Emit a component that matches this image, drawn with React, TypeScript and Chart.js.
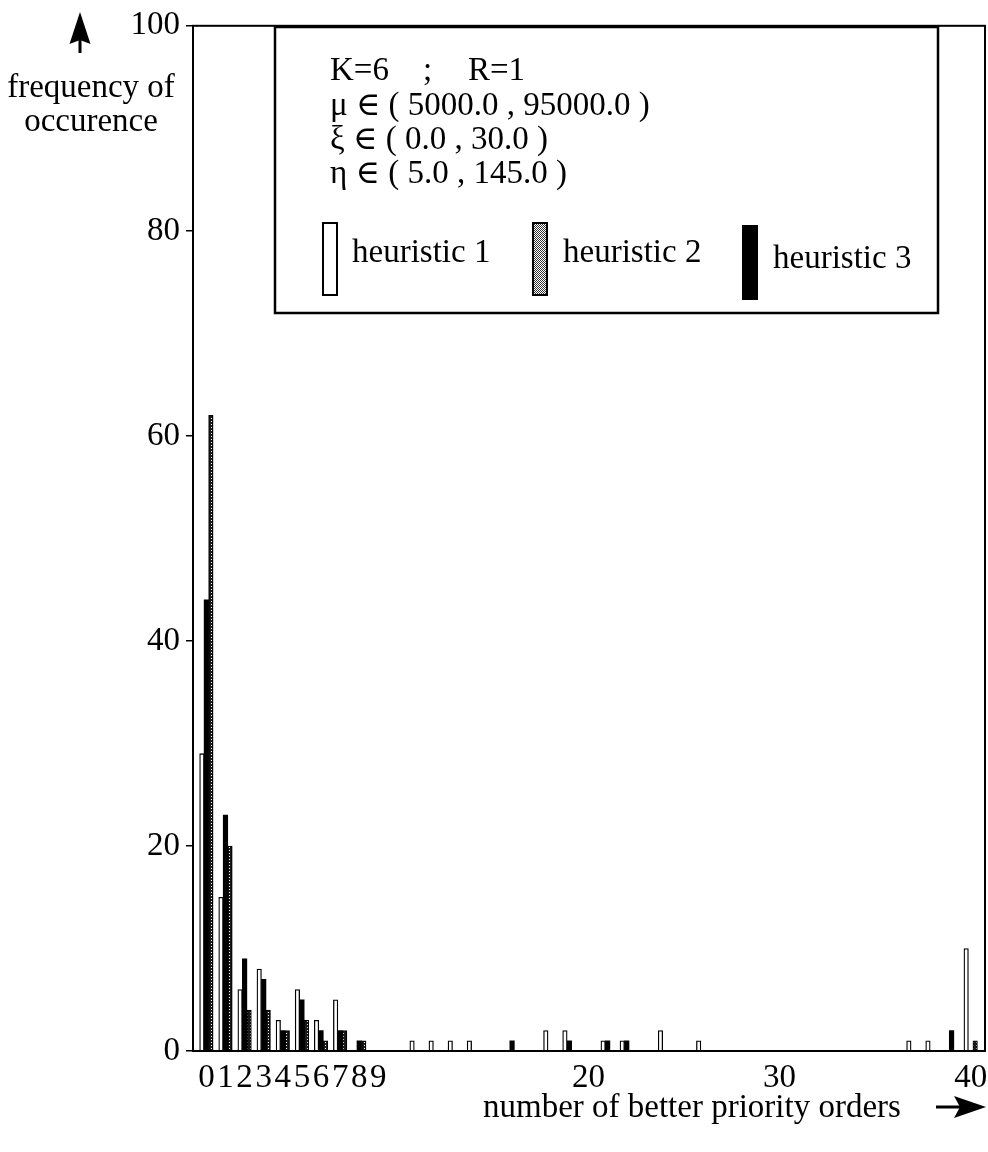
import React, { useEffect, useRef } from "react";
import { Chart, registerables } from "chart.js";

Chart.register(...registerables);

// number of better priority orders (x values)
const counts = [0, 1, 2, 3, 4, 5, 6, 7, 8, 9, 10, 11, 12, 13, 14, 15, 16, 17, 18, 19, 20, 21, 22, 23, 24, 25, 26, 27, 28, 29, 30, 31, 32, 33, 34, 35, 36, 37, 38, 39, 40];
// frequency of occurence per heuristic
const heuristic1 = [29, 15, 6, 8, 3, 6, 3, 5, 0, 0, 0, 1, 1, 1, 1, 0, 0, 0, 2, 2, 0, 1, 1, 0, 2, 0, 1, 0, 0, 0, 0, 0, 0, 0, 0, 0, 0, 1, 1, 0, 10];
const heuristic2 = [62, 20, 4, 4, 2, 3, 1, 2, 1, 0, 0, 0, 0, 0, 0, 0, 0, 0, 0, 0, 0, 0, 0, 0, 0, 0, 0, 0, 0, 0, 0, 0, 0, 0, 0, 0, 0, 0, 0, 0, 1];
const heuristic3 = [44, 23, 9, 7, 2, 5, 2, 2, 1, 0, 0, 0, 0, 0, 0, 0, 1, 0, 0, 1, 0, 1, 1, 0, 0, 0, 0, 0, 0, 0, 0, 0, 0, 0, 0, 0, 0, 0, 0, 2, 0];
const xTickValues = [0, 1, 2, 3, 4, 5, 6, 7, 8, 9, 20, 30, 40];
const yTickValues = [0, 20, 40, 60, 80, 100];
const paramLines = ["\u03bc \u2208 ( 5000.0 , 95000.0 )", "\u03be \u2208 ( 0.0 , 30.0 )", "\u03b7 \u2208 ( 5.0 , 145.0 )"];

const FAMILY = '"Liberation Serif", "Times New Roman", "DejaVu Serif", serif';
const FONT = `33px ${FAMILY}`;

function makePattern(size: number, bg: string, draw: (c: CanvasRenderingContext2D) => void) {
  const c = document.createElement("canvas");
  c.width = size;
  c.height = size;
  const g = c.getContext("2d")!;
  g.fillStyle = bg;
  g.fillRect(0, 0, size, size);
  draw(g);
  return g.createPattern(c, "repeat")!;
}

export default function App() {
  const ref = useRef<HTMLCanvasElement>(null);

  useEffect(() => {
    const canvas = ref.current!;
    const barPattern = makePattern(3, "#1a1a1a", (g) => {
      g.fillStyle = "#fff";
      g.fillRect(1, 1, 1, 1);
    });
    const legendPattern = makePattern(2, "#fff", (g) => {
      g.fillStyle = "#333";
      g.fillRect(0, 0, 1, 1);
      g.fillRect(1, 1, 1, 1);
    });

    const toPoints = (arr: number[]) =>
      counts.map((c, i) => ({ x: c, y: arr[i] > 0 ? arr[i] : null }));

    const decor = {
      id: "decor",
      afterDraw(chart: any) {
        const ctx: CanvasRenderingContext2D = chart.ctx;
        const { left, top, right, bottom } = chart.chartArea;
        ctx.save();
        ctx.strokeStyle = "#000";
        ctx.fillStyle = "#000";
        ctx.lineWidth = 2;
        ctx.strokeRect(left, top, right - left, bottom - top);

        // legend / parameter box
        ctx.lineWidth = 2.5;
        ctx.strokeRect(275, 27, 663, 286);
        ctx.font = FONT;
        ctx.textAlign = "left";
        ctx.textBaseline = "alphabetic";
        ctx.fillText("K=6", 330, 80);
        ctx.fillText(";", 423, 80);
        ctx.fillText("R=1", 468, 80);
        ctx.fillText(paramLines[0], 330, 115);
        ctx.fillText(paramLines[1], 330, 149);
        ctx.fillText(paramLines[2], 330, 183);

        const ds = chart.data.datasets;
        // heuristic 1 swatch
        ctx.lineWidth = 2;
        ctx.fillStyle = "#fff";
        ctx.fillRect(323, 223, 14, 72);
        ctx.strokeRect(323, 223, 14, 72);
        ctx.fillStyle = "#000";
        ctx.fillText(ds[0].label, 352, 262);
        // heuristic 2 swatch
        ctx.fillStyle = legendPattern;
        ctx.fillRect(533, 223, 14, 72);
        ctx.strokeRect(533, 223, 14, 72);
        ctx.fillStyle = "#000";
        ctx.fillText(ds[2].label, 563, 262);
        // heuristic 3 swatch
        ctx.fillRect(742, 225, 16, 75);
        ctx.fillText(ds[1].label, 773, 268);

        // y-axis title with up arrow
        ctx.textAlign = "center";
        ctx.fillText("frequency of", 91, 97);
        ctx.fillText("occurence", 91, 131);
        ctx.beginPath();
        ctx.moveTo(80, 12);
        ctx.lineTo(90.5, 44);
        ctx.lineTo(80, 40);
        ctx.lineTo(69.5, 44);
        ctx.closePath();
        ctx.fill();
        ctx.fillRect(78.5, 38, 3, 15);

        // x-axis title with right arrow
        ctx.textAlign = "left";
        ctx.fillText("number of better priority orders", 483, 1117);
        ctx.beginPath();
        ctx.moveTo(986, 1107);
        ctx.lineTo(954, 1096);
        ctx.lineTo(960, 1107);
        ctx.lineTo(954, 1118);
        ctx.closePath();
        ctx.fill();
        ctx.fillRect(936, 1105.5, 24, 3);
        ctx.restore();
      },
    };

    const chart = new Chart(canvas, {
      type: "bar",
      data: {
        datasets: [
          {
            label: "heuristic 1",
            data: toPoints(heuristic1),
            backgroundColor: "#fff",
            borderColor: "#000",
            borderWidth: 1.3,
            barThickness: 4.5,
          },
          {
            label: "heuristic 3",
            data: toPoints(heuristic3),
            backgroundColor: "#000",
            borderColor: "#000",
            borderWidth: 0,
            barThickness: 4.5,
          },
          {
            label: "heuristic 2",
            data: toPoints(heuristic2),
            backgroundColor: barPattern as any,
            borderColor: "#000",
            borderWidth: 1.2,
            barThickness: 4.5,
          },
        ] as any,
      },
      options: {
        responsive: false,
        animation: false,
        layout: { padding: { left: 0, top: 19, right: 3, bottom: 41 } },
        plugins: {
          legend: { display: false },
          tooltip: { enabled: false },
        },
        scales: {
          x: {
            type: "linear",
            offset: false,
            min: -0.7,
            max: 40.75,
            grid: { display: false, offset: false },
            border: { display: false },
            afterBuildTicks: (scale: any) => {
              scale.ticks = xTickValues.map((v) => ({ value: v }));
            },
            afterFit: (scale: any) => {
              scale.height = 60;
            },
            ticks: {
              autoSkip: false,
              maxRotation: 0,
              color: "#000",
              padding: 0,
              font: { family: FAMILY, size: 33 },
              callback: (v: any) => String(v),
            },
          },
          y: {
            min: 0,
            max: 100,
            grid: {
              drawOnChartArea: false,
              drawTicks: true,
              tickLength: 7,
              color: "#000",
              lineWidth: 1.5,
            },
            border: { display: false },
            afterBuildTicks: (scale: any) => {
              scale.ticks = yTickValues.map((v) => ({ value: v }));
            },
            afterFit: (scale: any) => {
              scale.width = 193;
            },
            ticks: {
              color: "#000",
              padding: 6,
              font: { family: FAMILY, size: 33 },
            },
          },
        },
      },
      plugins: [decor],
    } as any);

    return () => chart.destroy();
  }, []);

  return (
    <div style={{ position: "absolute", left: 0, top: 0, width: 988, height: 1152, background: "#fff" }}>
      <canvas ref={ref} width={988} height={1152} />
    </div>
  );
}
